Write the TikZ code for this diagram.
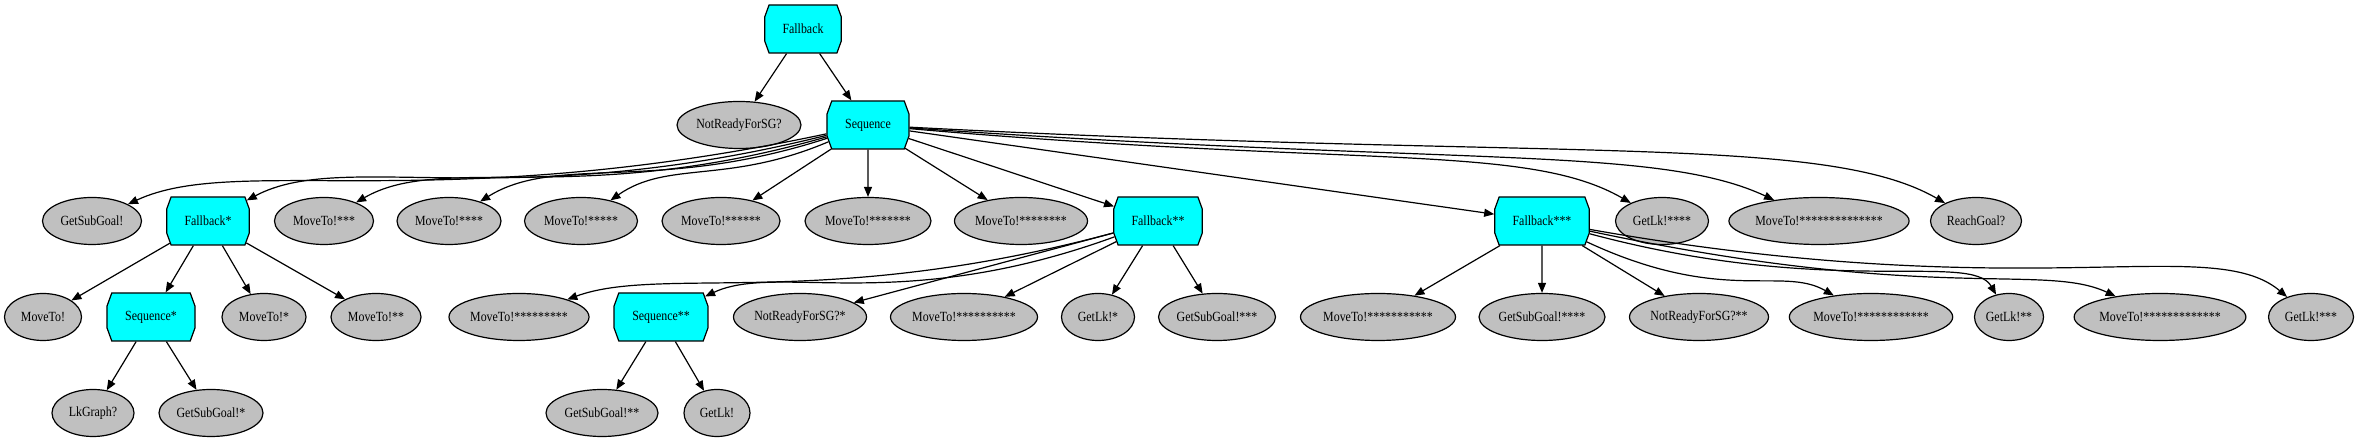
\documentclass[tikz,border=0pt]{standalone}
\usepackage{fontspec}
\setmainfont{Liberation Serif}[FakeStretch=0.85]
\usetikzlibrary{shapes.geometric,shapes.misc,arrows.meta}
\definecolor{ctrlcyan}{RGB}{0,255,255}
\definecolor{leafgray}{RGB}{192,192,192}

\begin{document}
\begin{tikzpicture}[x=1pt,y=1pt,
    ctrl/.style={chamfered rectangle,chamfered rectangle angle=20,chamfered rectangle xsep=20pt,chamfered rectangle ysep=7pt,
      draw,fill=ctrlcyan,line width=1.2pt,inner xsep=16pt,inner ysep=0pt,minimum height=48pt,font=\fontsize{14}{16}\selectfont},
    leaf/.style={ellipse,draw,fill=leafgray,line width=1.2pt,inner sep=0pt,minimum height=47pt,font=\fontsize{14}{16}\selectfont},
    edge/.style={-{Triangle[length=10pt,width=8pt]},line width=1.2pt}]
    \useasboundingbox (0,0) rectangle (2360,443);
    % root and first level
    \node[ctrl] (fb0) at (803,414) {Fallback};
    \node[leaf,minimum width=124pt] (nr0) at (739,318) {NotReadyForSG?};
    \node[ctrl] (sq0) at (868,318) {Sequence};
    % children of the sequence
    \node[leaf,minimum width=99pt] (gs0) at (92,222) {GetSubGoal!};
    \node[ctrl] (fb1) at (208,222) {Fallback*};
    \node[leaf,minimum width=99pt] (mv3) at (324,222) {MoveTo!***};
    \node[leaf,minimum width=104pt] (mv4) at (449,222) {MoveTo!****};
    \node[leaf,minimum width=113pt] (mv5) at (581,222) {MoveTo!*****};
    \node[leaf,minimum width=118pt] (mv6) at (721,222) {MoveTo!******};
    \node[leaf,minimum width=126pt] (mv7) at (868,222) {MoveTo!*******};
    \node[leaf,minimum width=133pt] (mv8) at (1021,222) {MoveTo!********};
    \node[ctrl] (fb2) at (1158,222) {Fallback**};
    \node[ctrl] (fb3) at (1542,222) {Fallback***};
    \node[leaf,minimum width=93pt] (lk4) at (1662,222) {GetLk!****};
    \node[leaf,minimum width=175pt] (mv14) at (1819,222) {MoveTo!**************};
    \node[leaf,minimum width=91pt] (rg0) at (1976,222) {ReachGoal?};
    % third level
    \node[leaf,minimum width=77pt] (mv0) at (43,126) {MoveTo!};
    \node[ctrl] (sq1) at (151,126) {Sequence*};
    \node[leaf,minimum width=84pt] (mv1) at (264,126) {MoveTo!*};
    \node[leaf,minimum width=90pt] (mv2) at (376,126) {MoveTo!**};
    \node[leaf,minimum width=140pt] (mv9) at (519,126) {MoveTo!*********};
    \node[ctrl] (sq2) at (661,126) {Sequence**};
    \node[leaf,minimum width=133pt] (nr1) at (800,126) {NotReadyForSG?*};
    \node[leaf,minimum width=147pt] (mv10) at (964,126) {MoveTo!**********};
    \node[leaf,minimum width=73pt] (lk1) at (1098,126) {GetLk!*};
    \node[leaf,minimum width=117pt] (gs3) at (1217,126) {GetSubGoal!***};
    \node[leaf,minimum width=155pt] (mv11) at (1378,126) {MoveTo!***********};
    \node[leaf,minimum width=126pt] (gs4) at (1542,126) {GetSubGoal!****};
    \node[leaf,minimum width=139pt] (nr2) at (1699,126) {NotReadyForSG?**};
    \node[leaf,minimum width=159pt] (mv12) at (1871,126) {MoveTo!************};
    \node[leaf,minimum width=69pt] (lk2) at (2009,126) {GetLk!**};
    \node[leaf,minimum width=169pt] (mv13) at (2160,126) {MoveTo!*************};
    \node[leaf,minimum width=85pt] (lk3) at (2311,126) {GetLk!***};
    % bottom level
    \node[leaf,minimum width=82pt] (lg0) at (93,30) {LkGraph?};
    \node[leaf,minimum width=104pt] (gs1) at (211,30) {GetSubGoal!*};
    \node[leaf,minimum width=112pt] (gs2) at (602,30) {GetSubGoal!**};
    \node[leaf,minimum width=66pt] (lk0) at (717,30) {GetLk!};

    \draw[edge] (fb0) -- (nr0);
    \draw[edge] (fb0) -- (sq0);
    \draw[edge] (sq0) to[out=192,in=25,out distance=400pt,in distance=120pt] (gs0);
    \draw[edge] (sq0) to[out=194,in=28,out distance=330pt,in distance=110pt] (fb1);
    \draw[edge] (sq0) to[out=196,in=30,out distance=260pt,in distance=100pt] (mv3);
    \draw[edge] (sq0) to[out=198,in=32,out distance=180pt,in distance=90pt] (mv4);
    \draw[edge] (sq0) to[out=203,in=35,out distance=110pt,in distance=70pt] (mv5);
    \draw[edge] (sq0) -- (mv6);
    \draw[edge] (sq0) -- (mv7);
    \draw[edge] (sq0) -- (mv8);
    \draw[edge] (sq0) -- (fb2);
    \draw[edge] (sq0) -- (fb3);
    \draw[edge] (sq0) to[out=-5,in=150,out distance=450pt,in distance=120pt] (lk4);
    \draw[edge] (sq0) to[out=-4,in=155,out distance=550pt,in distance=130pt] (mv14);
    \draw[edge] (sq0.-3) .. controls +(-3:650pt) and +(150:140pt) .. (rg0.150);
    \draw[edge] (fb1) -- (mv0);
    \draw[edge] (fb1) -- (sq1);
    \draw[edge] (fb1) -- (mv1);
    \draw[edge] (fb1) -- (mv2);
    \draw[edge] (sq1) -- (lg0);
    \draw[edge] (sq1) -- (gs1);
    \draw[edge] (fb2) to[out=195,in=20,out distance=300pt,in distance=100pt] (mv9);
    \draw[edge] (fb2) to[out=200,in=25,out distance=230pt,in distance=80pt] (sq2);
    \draw[edge] (fb2) -- (nr1);
    \draw[edge] (fb2) -- (mv10);
    \draw[edge] (fb2) -- (lk1);
    \draw[edge] (fb2) -- (gs3);
    \draw[edge] (sq2) -- (gs2);
    \draw[edge] (sq2) -- (lk0);
    \draw[edge] (fb3) -- (mv11);
    \draw[edge] (fb3) -- (gs4);
    \draw[edge] (fb3) -- (nr2);
    \draw[edge] (fb3) to[out=-25,in=150,out distance=150pt,in distance=60pt] (mv12);
    \draw[edge] (fb3) to[out=-15,in=120,out distance=250pt,in distance=50pt] (lk2);
    \draw[edge] (fb3) to[out=-12,in=155,out distance=350pt,in distance=80pt] (mv13);
    \draw[edge] (fb3) to[out=-10,in=140,out distance=450pt,in distance=100pt] (lk3);
\end{tikzpicture}
\end{document}
